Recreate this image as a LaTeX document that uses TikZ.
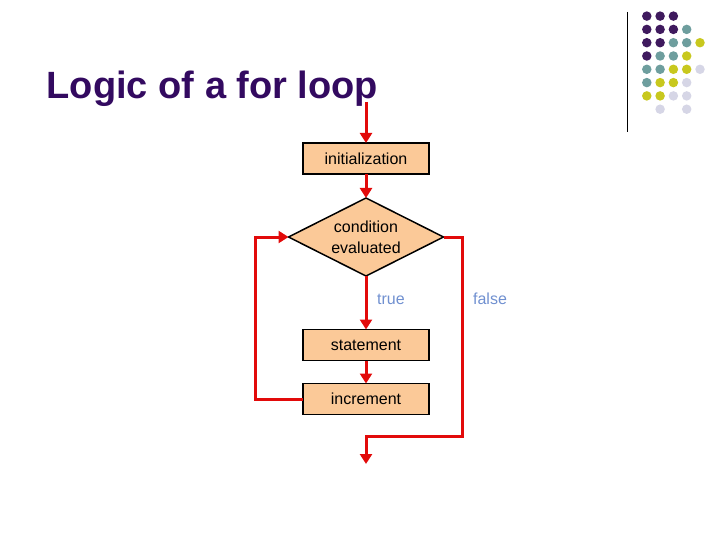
\documentclass[tikz,border=0pt]{standalone}
\usepackage{fontspec}
\setmainfont{Liberation Sans}
\usetikzlibrary{shapes.geometric,arrows.meta}
\definecolor{titlepurple}{HTML}{330A60}
\definecolor{dpurple}{HTML}{3F1A5E}
\definecolor{dteal}{HTML}{6E9E9E}
\definecolor{dyellow}{HTML}{C8C81E}
\definecolor{dlav}{HTML}{D6D6E6}
\definecolor{peach}{HTML}{FBC998}
\definecolor{flowred}{HTML}{E20A0A}
\definecolor{lblblue}{HTML}{7090D0}
\tikzset{
  stepbox/.style={draw=black, line width=1.5pt, fill=peach, minimum width=126pt, minimum height=31pt, inner sep=0pt, outer sep=0pt, font=\fontsize{16}{18}\selectfont},
  decbox/.style={draw=black, line width=1.5pt, fill=peach, diamond, aspect=2, minimum width=155pt, minimum height=78pt, inner sep=0pt, outer sep=0pt, align=center, font=\fontsize{16}{21}\selectfont},
  flow/.style={draw=flowred, line width=3pt, line join=miter},
  flowarrow/.style={flow, -{Triangle[length=10pt,width=12pt]}},
  lbl/.style={text=lblblue, font=\fontsize{16}{18}\selectfont, inner sep=0pt},
  dot/.style={circle, minimum size=9.5pt, inner sep=0pt, draw=none}
}
\begin{document}
\begin{tikzpicture}[x=1pt,y=-1pt]
\useasboundingbox (0,0) rectangle (720,540);
% title
\node[anchor=base west, inner sep=0pt, text=titlepurple, font=\fontsize{38}{42}\selectfont\bfseries] (title) at (46.5,99) {Logic of a for loop};
% decoration
\draw[black, line width=1pt] (627,12) -- (627,132);
\foreach \c/\r/\col in {1/1/dpurple,2/1/dpurple,3/1/dpurple,
  1/2/dpurple,2/2/dpurple,3/2/dpurple,4/2/dteal,
  1/3/dpurple,2/3/dpurple,3/3/dteal,4/3/dteal,5/3/dyellow,
  1/4/dpurple,2/4/dteal,3/4/dteal,4/4/dyellow,
  1/5/dteal,2/5/dteal,3/5/dyellow,4/5/dyellow,5/5/dlav,
  1/6/dteal,2/6/dyellow,3/6/dyellow,4/6/dlav,
  1/7/dyellow,2/7/dyellow,3/7/dlav,4/7/dlav,
  2/8/dlav,4/8/dlav}
  \node[dot, fill=\col] (d\c\r) at ({633.5+13.3*\c},{2.8+13.3*\r}) {};
% flowchart
\coordinate (start) at (366,102);
\node[stepbox] (init) at (366,158.5) {initialization};
\node[decbox] (cond) at (366,237) {condition\\evaluated};
\node[stepbox] (stmt) at (366,345) {statement};
\node[stepbox] (incr) at (366,399) {increment};
\node[lbl] (true) at (391,299) {true};
\node[lbl] (false) at (490,299) {false};
\coordinate (lc) at (255,399);
\coordinate (rc1) at (462,237);
\coordinate (rc2) at (462,436);
\coordinate (rc3) at (366,436);
\coordinate (endpt) at (366,464);
\draw[flowarrow] (start) -- (init.north);
\draw[flowarrow] (init.south) -- (cond.north);
\draw[flowarrow] (cond.south) -- (stmt.north);
\draw[flowarrow] (stmt.south) -- (incr.north);
\draw[flowarrow] (incr.west) -- (lc) |- (cond.west);
\draw[flowarrow] (cond.east) -- (rc1) -- (rc2) -- (rc3) -- (endpt);
\end{tikzpicture}
\end{document}
